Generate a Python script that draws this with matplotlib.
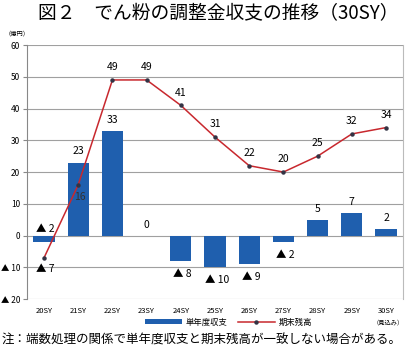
import matplotlib
matplotlib.use("Agg")
import matplotlib.pyplot as plt
from matplotlib.lines import Line2D
from matplotlib.patches import Patch

plt.rcParams['font.family'] = ['Noto Sans CJK JP', 'DejaVu Sans']

# ─── DATA ───────────────────────────────────────────────────────────────────────
years    = ["20SY", "21SY", "22SY", "23SY", "24SY", "25SY", "26SY", "27SY", "28SY", "29SY", "30SY"]
balance  = [-2, 23, 33, 0, -8, -10, -9, -2, 5, 7, 2]          # 単年度収支
closing  = [-7, 16, 49, 49, 41, 31, 22, 20, 25, 32, 34]       # 期末残高
yticks   = [-20, -10, 0, 10, 20, 30, 40, 50, 60]
ylabels  = ["▲ 20", "▲ 10", "0", "10", "20", "30", "40", "50", "60"]

BAR_C  = "#1f5fae"
LINE_C = "#c8282e"

def fmt(v):
    return f"▲ {abs(v)}" if v < 0 else f"{v}"

# ─── FIGURE ─────────────────────────────────────────────────────────────────────
fig = plt.figure(figsize=(4.08, 3.49), dpi=100)
ax = fig.add_axes([0.066, 0.143, 0.922, 0.728])

x = list(range(len(years)))
ax.bar(x, balance, width=0.62, color=BAR_C, zorder=2)
ax.plot(x, closing, color=LINE_C, lw=1.1, marker="o", ms=2.2,
        mfc="#333344", mec="#333344", zorder=3)

ax.set_xlim(-0.5, len(years) - 0.5)
ax.set_ylim(-20, 60)
ax.set_yticks(yticks)
ax.set_yticklabels(ylabels, fontsize=6)
ax.set_xticks(x)
ax.set_xticklabels(years, fontsize=5.5)
ax.yaxis.grid(True, color="#a0a0a0", lw=0.8)
ax.set_axisbelow(True)
ax.tick_params(axis="x", length=0, pad=6)
ax.tick_params(axis="y", length=3, color="#888888", pad=2)
for s in ["top", "bottom"]:
    ax.spines[s].set_visible(False)
ax.spines["left"].set_color("#888888")
ax.spines["right"].set_color("#bbbbbb")

# ─── LABELS ─────────────────────────────────────────────────────────────────────
fs = 7.5
# line labels
for i, v in enumerate(closing):
    if i == 0:
        ax.text(i + 0.05, v - 3.5, fmt(v), ha="center", va="center", fontsize=fs)
    elif i == 1:
        ax.text(i + 0.05, v - 3.7, fmt(v), ha="center", va="center", fontsize=fs, color="#333333")
    else:
        ax.text(i, v + 4, fmt(v), ha="center", va="center", fontsize=fs)
# bar labels
for i, v in enumerate(balance):
    if i == 0:
        ax.text(i + 0.05, 0.5, fmt(v), ha="center", va="bottom", fontsize=fs)
    elif v < 0:
        ax.text(i + 0.05, v - 4, fmt(v), ha="center", va="center", fontsize=fs)
    elif v == 0:
        ax.text(i, 3.2, fmt(v), ha="center", va="center", fontsize=fs)
    else:
        ax.text(i, v + 3.5, fmt(v), ha="center", va="center", fontsize=fs)

# ─── TITLE / NOTES ──────────────────────────────────────────────────────────────
fig.text(0.535, 0.962, "図２　でん粉の調整金収支の推移（30SY）", ha="center", va="center", fontsize=13.5)
fig.text(0.012, 0.905, "（億円）", ha="left", va="center", fontsize=4.5)
fig.text(0.99, 0.075, "（見込み）", ha="right", va="center", fontsize=4.5)
fig.text(0.005, 0.025, "注：端数処理の関係で単年度収支と期末残高が一致しない場合がある。",
         ha="left", va="center", fontsize=9)

handles = [Patch(facecolor=BAR_C, label="単年度収支"),
           Line2D([0], [0], color=LINE_C, lw=1.1, marker="o", ms=2.2,
                  mfc="#333344", mec="#333344", label="期末残高")]
fig.legend(handles=handles, loc="center", bbox_to_anchor=(0.56, 0.077), ncol=2,
           frameon=False, fontsize=6, handlelength=4.5, handleheight=0.6,
           columnspacing=1.2, handletextpad=0.4)

fig.savefig("out.png", dpi=100)
